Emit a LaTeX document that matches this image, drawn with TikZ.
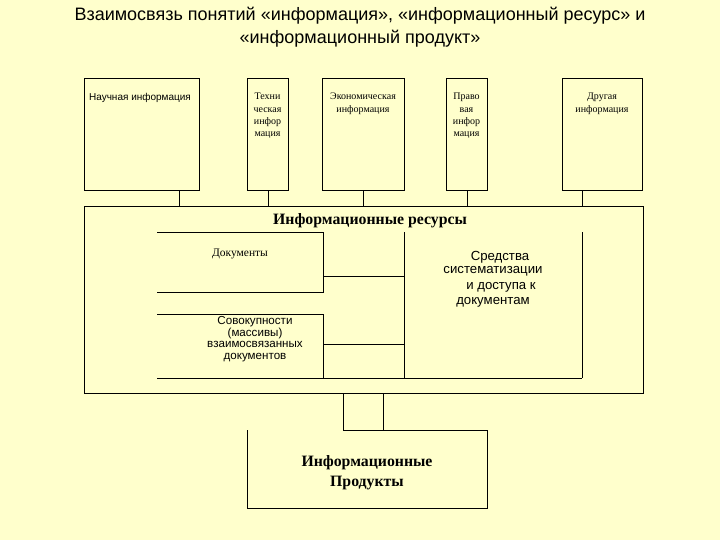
\documentclass[tikz,border=0pt]{standalone}
\usepackage{fontspec}
\setmainfont{Liberation Serif}
\setsansfont{Liberation Sans}
\usetikzlibrary{calc}
\definecolor{bg}{HTML}{FFFFCC}
\tikzset{
  box/.style={draw=black, line width=0.9pt, fill=bg, rectangle, inner sep=0pt, anchor=north west},
  ghost/.style={rectangle, inner sep=0pt, anchor=north west},
  ln/.style={draw=black, line width=0.9pt},
  small/.style={font=\fontsize{10}{12.4}\selectfont, align=center, inner sep=0pt},
  smallsans/.style={font=\sffamily\fontsize{10}{12.4}\selectfont, align=center, inner sep=0pt},
  head/.style={font=\bfseries\fontsize{15.8}{20}\selectfont, align=center, inner sep=0pt},
  ttl/.style={font=\sffamily\fontsize{18}{23}\selectfont, inner sep=0pt},
}
\begin{document}
\begin{tikzpicture}[x=1pt,y=-1pt]
\fill[bg] (0,0) rectangle (720,540);
\useasboundingbox (0,0) rectangle (720,540);

% title
\node[ttl] (t1) at (360,16) {Взаимосвязь понятий «информация», «информационный ресурс» и};
\node[ttl] (t2) at (360,39) {«информационный продукт»};

% top boxes
\node[box, minimum width=115pt, minimum height=112pt] (sci) at (84,78) {};
\node[box, minimum width=41pt, minimum height=112pt] (tech) at (247,78) {};
\node[box, minimum width=82pt, minimum height=112pt] (eco) at (322,78) {};
\node[box, minimum width=41pt, minimum height=112pt] (law) at (446,78) {};
\node[box, minimum width=80pt, minimum height=112pt] (oth) at (562,78) {};

\node[smallsans, anchor=north] (scit) at (140,93.5) {Научная информация};
\node[small, anchor=north] (techt) at (267.5,93) {Техни\\ческая\\инфор\\мация};
\node[small, anchor=north] (ecot) at (363,93) {Экономическая\\информация};
\node[small, anchor=north] (lawt) at (466.5,93) {Право\\вая\\инфор\\мация};
\node[small, anchor=north] (otht) at (602,93) {Другая\\информация};

% resources box
\node[box, minimum width=559pt, minimum height=187pt] (res) at (84,206) {};
\node[head, anchor=north] (rest) at (370,213) {Информационные ресурсы};

% connectors top boxes -> resources
\draw[ln] ([xshift=37pt]sci.south) -- ([xshift=37pt]sci.south |- res.north);
\draw[ln] (tech.south) -- (tech.south |- res.north);
\draw[ln] (eco.south) -- (eco.south |- res.north);
\draw[ln] (law.south) -- (law.south |- res.north);
\draw[ln] ([xshift=-20pt]oth.south) -- ([xshift=-20pt]oth.south |- res.north);

% inner blocks
\node[ghost, minimum width=166pt, minimum height=60pt] (doc) at (157,232) {};
\node[ghost, minimum width=166pt, minimum height=64pt] (sov) at (157,314) {};
\node[ghost, minimum width=178pt, minimum height=146pt] (sred) at (404,232) {};

\draw[ln] (doc.north west) -- (doc.north east) -- (doc.south east) -- (doc.south west);
\draw[ln] (sov.north west) -- (sov.north east) -- (sov.south east);
\draw[ln] (sred.north west) -- (sred.south west);
\draw[ln] (sred.north east) -- (sred.south east);
\draw[ln] (sov.south west) -- (sred.south east);

\draw[ln] ([yshift=-14pt]doc.east) -- ([yshift=-14pt]doc.east -| sred.west);
\draw[ln] ([yshift=2pt]sov.east) -- ([yshift=2pt]sov.east -| sred.west);

\node[small, font=\fontsize{11.5}{13}\selectfont, anchor=north] (doct) at (240,248.5) {Документы};
\node[smallsans, font=\sffamily\fontsize{11.6}{11.7}\selectfont, anchor=north] (sovt) at (255,316) {Совокупности\\(массивы)\\взаимосвязанных\\документов};
\node[smallsans, font=\sffamily\fontsize{13.2}{14}\selectfont, anchor=north] (sredt) at (493,251.5) {\hspace{14pt}Средства\\[-1.5pt]систематизации\\[2.5pt]\hspace{16pt}и доступа к\\[1pt]документам};

% products
\node[ghost, minimum width=240pt, minimum height=78pt] (prod) at (247,430) {};
\draw[ln] ([xshift=-24pt]prod.north) -- (prod.north east) -- (prod.south east) -- (prod.south west) -- (prod.north west);
\draw[ln] ([xshift=-24pt]prod.north) -- ([xshift=-24pt]prod.north |- res.south);
\draw[ln] ([xshift=16pt]prod.north) -- ([xshift=16pt]prod.north |- res.south);
\node[head, anchor=north] (prodt) at (367,455) {Информационные\\Продукты};
\end{tikzpicture}
\end{document}
